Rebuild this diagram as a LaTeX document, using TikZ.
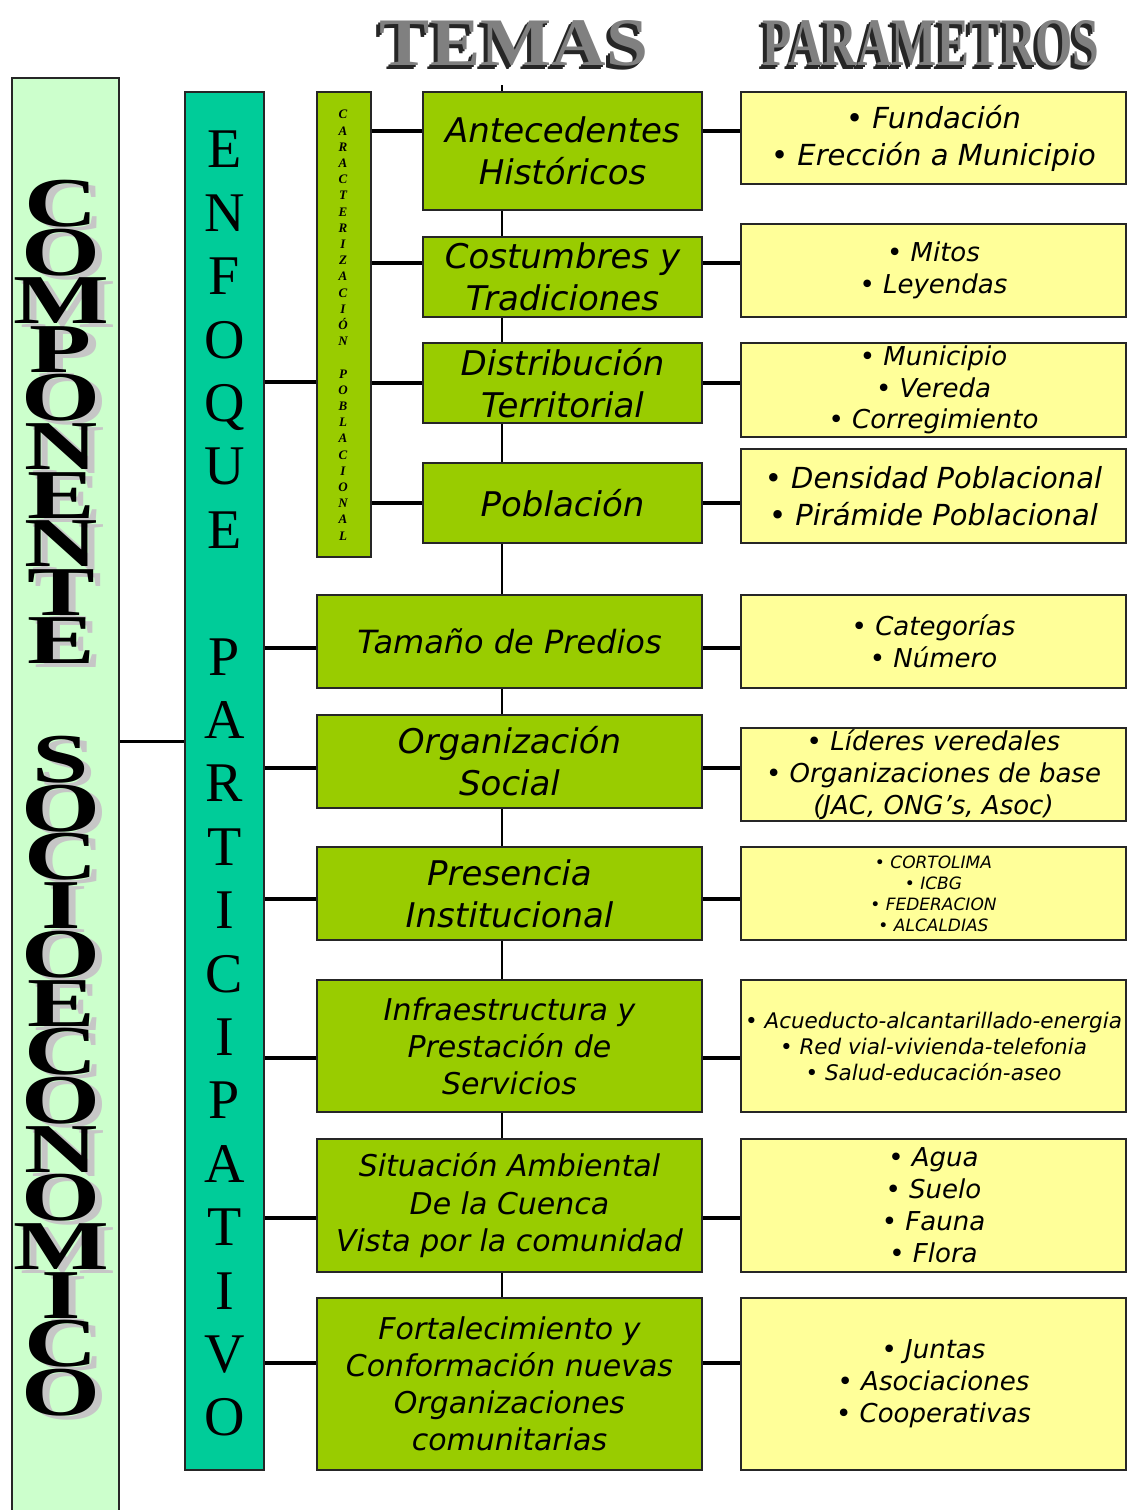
\documentclass[tikz,border=0pt]{standalone}
\usepackage{fontspec}
\usepackage{graphicx}
\setmainfont{Liberation Serif}
\newfontfamily\tahoma{DejaVu Sans}
\newfontfamily\wideserif{Liberation Serif}[FakeStretch=1.45]
\newcommand\stackfont[2]{\fontsize{#1}{#2}\selectfont\lineskiplimit=-20pt\relax}

\definecolor{compgreen}{HTML}{CCFFCC}
\definecolor{enfteal}{HTML}{00CC99}
\definecolor{temagreen}{HTML}{99CC00}
\definecolor{paramyellow}{HTML}{FFFF99}

\tikzset{
  box/.style={draw=black!85, line width=1.6pt, inner sep=0pt, align=center},
  tema/.style={box, fill=temagreen, minimum width=385pt, font=\tahoma\itshape\fontsize{34}{42}\selectfont},
  param/.style={box, fill=paramyellow, minimum width=385pt, font=\tahoma\itshape\fontsize{26}{32}\selectfont},
  stack/.style={anchor=north, inner sep=0pt, align=center},
  link/.style={line width=3.5pt},
  spine/.style={line width=2pt},
  headline/.style={inner sep=0pt, font=\bfseries}
}

\begin{document}
\begin{tikzpicture}[x=1pt,y=-1pt]
  \useasboundingbox (0,0) rectangle (1134,1510);

  % titles
  \foreach \d in {4,2}
    \node[headline, text=black!85] at (514-\d,43+\d) {\resizebox{268pt}{45pt}{TEMAS}};
  \node[headline, text=gray] (temas) at (514,43) {\resizebox{268pt}{45pt}{TEMAS}};
  \foreach \d in {4,2}
    \node[headline, text=black!85] at (931-\d,43+\d) {\resizebox{337pt}{45pt}{PARAMETROS}};
  \node[headline, text=gray] (parametros) at (931,43) {\resizebox{337pt}{45pt}{PARAMETROS}};

  % spine behind the theme boxes
  \coordinate (spinetop) at (502,85);
  \coordinate (spinebot) at (502,1298);
  \draw[spine] (spinetop) -- (spinebot);

  % columns
  \node[box, fill=compgreen, minimum width=107pt, minimum height=1440pt] (comp) at (65.5,798) {};
  \node[stack, text=gray!45, font=\wideserif\bfseries\stackfont{70}{48.6}] (compsh) at (68,184)
        {C\\O\\M\\P\\O\\N\\E\\N\\T\\E};
  \node[stack, font=\wideserif\bfseries\stackfont{70}{48.6}] (comptxt) at (61,180)
        {C\\O\\M\\P\\O\\N\\E\\N\\T\\E};
  \node[stack, text=gray!45, font=\wideserif\bfseries\stackfont{70}{48.7}] (socish) at (68,740)
        {S\\O\\C\\I\\O\\E\\C\\O\\N\\O\\M\\I\\C\\O};
  \node[stack, font=\wideserif\bfseries\stackfont{70}{48.7}] (socitxt) at (61,736)
        {S\\O\\C\\I\\O\\E\\C\\O\\N\\O\\M\\I\\C\\O};

  \node[box, fill=enfteal, minimum width=79pt, minimum height=1378pt] (enfoque) at (224.5,781) {};
  \node[stack, font=\stackfont{56}{63.4}] (enftxt) at (224.5,131)
        {E\\N\\F\\O\\Q\\U\\E\\\mbox{}\\P\\A\\R\\T\\I\\C\\I\\P\\A\\T\\I\\V\\O};

  \node[box, fill=temagreen, minimum width=54pt, minimum height=465pt] (carac) at (344,324.5) {};
  \node[stack, font=\bfseries\itshape\stackfont{13}{16.2}] (caractxt) at (343,110)
        {C\\A\\R\\A\\C\\T\\E\\R\\I\\Z\\A\\C\\I\\Ó\\N\\\mbox{}\\P\\O\\B\\L\\A\\C\\I\\O\\N\\A\\L};

  % temas
  \node[tema, minimum width=279pt, minimum height=118pt] (ant) at (562.5,151) {Antecedentes\\Históricos};
  \node[tema, minimum width=279pt, minimum height=80pt] (cos) at (562.5,277) {Costumbres y\\Tradiciones};
  \node[tema, minimum width=279pt, minimum height=80pt] (dis) at (562.5,383) {Distribución\\Territorial};
  \node[tema, minimum width=279pt, minimum height=80pt] (pob) at (562.5,503) {Población};
  \node[tema, minimum height=93pt, font=\tahoma\itshape\fontsize{32}{40}\selectfont] (tam) at (509.5,641.5) {Tamaño de Predios};
  \node[tema, minimum height=93pt] (org) at (509.5,761.5) {Organización\\Social};
  \node[tema, minimum height=93pt] (pre) at (509.5,893.5) {Presencia\\Institucional};
  \node[tema, minimum height=132pt, font=\tahoma\itshape\fontsize{30}{37}\selectfont] (inf) at (509.5,1046)
    {Infraestructura y\\Prestación de\\Servicios};
  \node[tema, minimum height=133pt, font=\tahoma\itshape\fontsize{30}{37.5}\selectfont] (sit) at (509.5,1205.5)
    {Situación Ambiental\\De la Cuenca\\Vista por la comunidad};
  \node[tema, minimum height=172pt, font=\tahoma\itshape\fontsize{30}{37}\selectfont] (fort) at (509.5,1384)
    {Fortalecimiento y\\Conformación nuevas\\Organizaciones\\comunitarias};

  % parametros
  \node[param, minimum height=92pt, font=\tahoma\itshape\fontsize{29}{37}\selectfont] (pant) at (933.5,138)
    {• Fundación\\• Erección a Municipio};
  \node[param, minimum height=93pt] (pcos) at (933.5,270.5) {• Mitos\\• Leyendas};
  \node[param, minimum height=94pt, font=\tahoma\itshape\fontsize{26}{31.5}\selectfont] (pdis) at (933.5,390)
    {• Municipio\\• Vereda\\• Corregimiento};
  \node[param, minimum height=94pt, font=\tahoma\itshape\fontsize{29}{37}\selectfont] (ppob) at (933.5,496)
    {• Densidad Poblacional\\• Pirámide Poblacional};
  \node[param, minimum height=93pt] (ptam) at (933.5,641.5) {• Categorías\\• Número};
  \node[param, minimum height=93pt] (porg) at (933.5,774.5)
    {• Líderes veredales\\• Organizaciones de base\\(JAC, ONG’s, Asoc)};
  \node[param, minimum height=93pt, font=\tahoma\itshape\fontsize{17}{21}\selectfont] (ppre) at (933.5,893.5)
    {• CORTOLIMA\\• ICBG\\• FEDERACION\\• ALCALDIAS};
  \node[param, minimum height=132pt, font=\tahoma\itshape\fontsize{21.5}{26}\selectfont] (pinf) at (933.5,1046)
    {• Acueducto-alcantarillado-energia\\• Red vial-vivienda-telefonia\\• Salud-educación-aseo};
  \node[param, minimum height=133pt] (psit) at (933.5,1205.5) {• Agua\\• Suelo\\• Fauna\\• Flora};
  \node[param, minimum height=172pt] (pfort) at (933.5,1384) {• Juntas\\• Asociaciones\\• Cooperativas};

  % connectors
  \draw[line width=3pt] (comp.east |- 0,741) -- (enfoque.west |- 0,741);
  \draw[link] (enfoque.east |- 0,382) -- (carac.west |- 0,382);
  \foreach \src/\t/\y in {carac/ant/131, carac/cos/263, carac/dis/383, carac/pob/503,
                          enfoque/tam/648, enfoque/org/768, enfoque/pre/899,
                          enfoque/inf/1058, enfoque/sit/1218, enfoque/fort/1363}
  {
    \draw[link] (\src.east |- 0,\y) -- (\t.west |- 0,\y);
    \draw[link] (\t.east |- 0,\y) -- (p\t.west |- 0,\y);
  }
\end{tikzpicture}
\end{document}
